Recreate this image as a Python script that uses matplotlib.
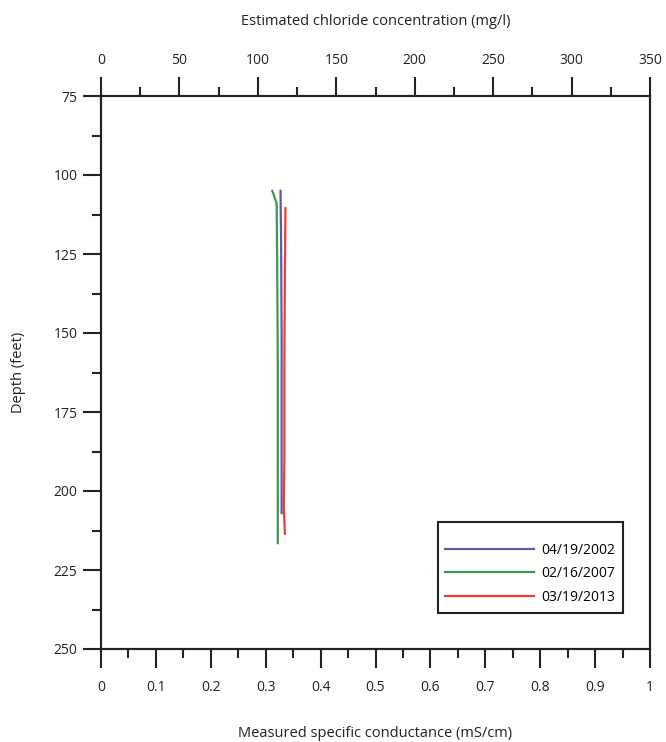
import matplotlib
matplotlib.use("Agg")
import matplotlib.pyplot as plt
from matplotlib.ticker import MultipleLocator

plt.rcParams['font.family'] = ['Open Sans', 'DejaVu Sans']

# Data
labels = ["04/19/2002", "02/16/2007", "03/19/2013"]
colors = ["#5b5ca8", "#3a9a4c", "#f03a3a"]
depth_2002 = [105, 120, 150, 180, 207]
cond_2002 = [0.327, 0.328, 0.329, 0.329, 0.329]
depth_2007 = [105, 109, 130, 160, 190, 216.5]
cond_2007 = [0.312, 0.320, 0.321, 0.322, 0.322, 0.322]
depth_2013 = [110.5, 130, 160, 190, 205, 213.5]
cond_2013 = [0.336, 0.335, 0.334, 0.334, 0.333, 0.335]

x_ticks = [0, 0.1, 0.2, 0.3, 0.4, 0.5, 0.6, 0.7, 0.8, 0.9, 1]
x_ticklabels = ["0", "0.1", "0.2", "0.3", "0.4", "0.5", "0.6", "0.7", "0.8", "0.9", "1"]
top_ticks = [0, 50, 100, 150, 200, 250, 300, 350]
y_ticks = [75, 100, 125, 150, 175, 200, 225, 250]

fig = plt.figure(figsize=(6.66, 7.42), dpi=100)
ax = fig.add_axes([101/666, 1-649/742, 549/666, 553/742])

for d, c, lab, col in [(depth_2002, cond_2002, labels[0], colors[0]),
                       (depth_2007, cond_2007, labels[1], colors[1]),
                       (depth_2013, cond_2013, labels[2], colors[2])]:
    ax.plot(c, d, color=col, lw=1.6, label=lab)

ax.set_xlim(0, 1)
ax.set_ylim(250, 75)
ax.set_xticks(x_ticks)
ax.set_xticklabels(x_ticklabels)
ax.xaxis.set_minor_locator(MultipleLocator(0.05))
ax.set_yticks(y_ticks)
ax.yaxis.set_minor_locator(MultipleLocator(12.5))

for sp in ax.spines.values():
    sp.set_linewidth(1.5)
    sp.set_color('#222222')

ax.tick_params(axis='x', which='major', direction='out', length=13.5, width=1.5,
               pad=9, labelsize=10, colors='#222222')
ax.tick_params(axis='x', which='minor', direction='out', length=6.5, width=1.5, colors='#222222')
ax.tick_params(axis='y', which='major', direction='out', length=13, width=1.5,
               pad=4, labelsize=10, colors='#222222')
ax.tick_params(axis='y', which='minor', direction='out', length=6.5, width=1.5, colors='#222222')
ax.tick_params(right=False, which='both')

ax.set_xlabel("Measured specific conductance (mS/cm)", fontsize=10.5, labelpad=22, color='#222222')
ax.set_ylabel("Depth (feet)", fontsize=10.5, labelpad=20, color='#222222')

ax2 = ax.twiny()
ax2.set_xlim(0, 350)
ax2.set_xticks(top_ticks)
ax2.xaxis.set_minor_locator(MultipleLocator(25))
ax2.tick_params(axis='x', which='major', direction='out', length=13.5, width=1.5,
                pad=7, labelsize=10, colors='#222222')
ax2.tick_params(axis='x', which='minor', direction='out', length=6.5, width=1.5, colors='#222222')
for sp in ax2.spines.values():
    sp.set_linewidth(1.5)
    sp.set_color('#222222')
ax2.set_xlabel("Estimated chloride concentration (mg/l)", fontsize=10.5, labelpad=20, color='#222222')

leg = ax.legend(loc='lower right', bbox_to_anchor=(0.950, 0.066), fontsize=10,
                handlelength=6.4, labelspacing=0.62, fancybox=False, framealpha=1,
                edgecolor='#222222', borderpad=0.55, handletextpad=0.5, borderaxespad=0,
                title=" ", title_fontsize=3)
leg.get_frame().set_linewidth(1.5)

fig.savefig("out.png", dpi=100)
